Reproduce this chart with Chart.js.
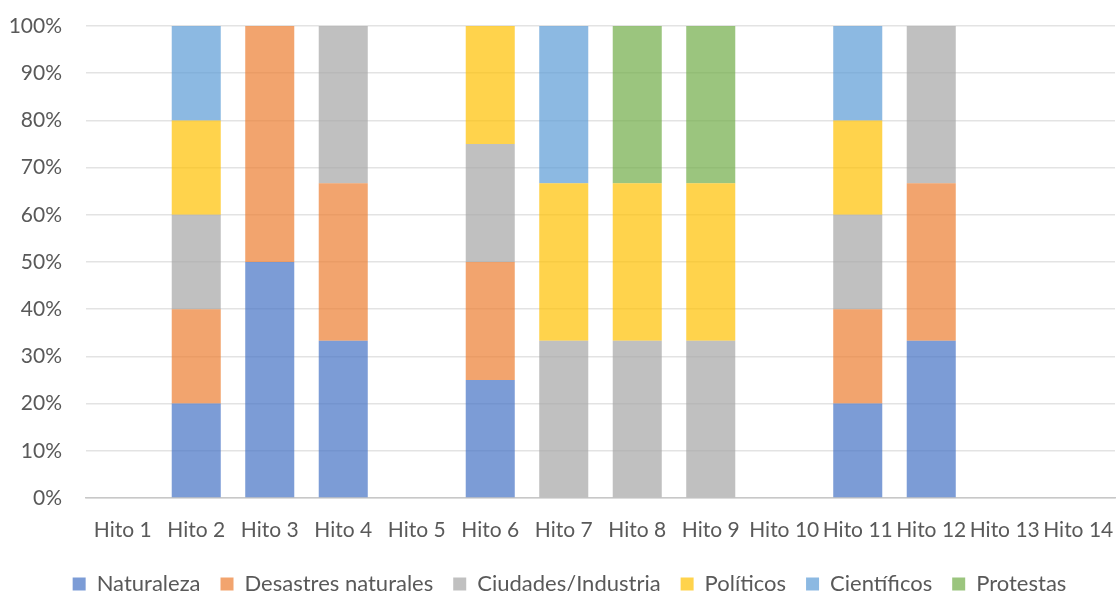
<!DOCTYPE html>
<html>
<head>
<meta charset="utf-8">
<script src="https://cdn.jsdelivr.net/npm/chart.js@4/dist/chart.umd.min.js"></script>
<style>
  html, body { margin: 0; padding: 0; background: #ffffff; }
  #wrap { width: 1116px; height: 591px; }
</style>
</head>
<body>
<div id="wrap"><canvas id="c" width="1116" height="591"></canvas></div>
<script>
// Share of each theme per milestone (percent of the milestone's total)
const categories = ['Hito 1','Hito 2','Hito 3','Hito 4','Hito 5','Hito 6','Hito 7','Hito 8','Hito 9','Hito 10','Hito 11','Hito 12','Hito 13','Hito 14'];
const naturaleza  = [null, 20, 50, 33.33, null, 25, null, null, null, null, 20, 33.33, null, null];
const desastres   = [null, 20, 50, 33.33, null, 25, null, null, null, null, 20, 33.33, null, null];
const ciudades    = [null, 20, null, 33.34, null, 25, 33.33, 33.33, 33.33, null, 20, 33.34, null, null];
const politicos   = [null, 20, null, null, null, 25, 33.33, 33.33, 33.33, null, 20, null, null, null];
const cientificos = [null, 20, null, null, null, null, 33.34, null, null, null, 20, null, null, null];
const protestas   = [null, null, null, null, null, null, null, 33.34, 33.34, null, null, null, null, null];
const yTicks = [0, 10, 20, 30, 40, 50, 60, 70, 80, 90, 100];

const FONT = 'Lato, Carlito, Calibri, "Open Sans", sans-serif';
const TEXT = '#595959';

function ds(label, data, color) {
  return { label, data, backgroundColor: color, borderWidth: 0,
           barPercentage: 0.667, categoryPercentage: 1.0 };
}

// Nudge the legend row slightly right of centre
const legendNudge = {
  id: 'legendNudge',
  afterLayout(chart) {
    if (chart.legend) { chart.legend.left += 12; chart.legend.right += 12; }
  }
};

new Chart(document.getElementById('c'), {
  type: 'bar',
  data: {
    labels: categories,
    datasets: [
      ds('Naturaleza', naturaleza, 'rgba(68,114,196,0.7)'),
      ds('Desastres naturales', desastres, 'rgba(237,125,49,0.7)'),
      ds('Ciudades/Industria', ciudades, 'rgba(165,165,165,0.7)'),
      ds('Políticos', politicos, 'rgba(255,192,0,0.7)'),
      ds('Científicos', cientificos, 'rgba(91,155,213,0.7)'),
      ds('Protestas', protestas, 'rgba(112,173,71,0.7)')
    ]
  },
  plugins: [legendNudge],
  options: {
    responsive: false,
    animation: false,
    layout: { padding: { top: 26, right: 1, left: 0, bottom: -14 } },
    plugins: {
      tooltip: { enabled: false },
      legend: {
        position: 'bottom',
        labels: {
          font: { family: FONT, size: 22 },
          color: TEXT,
          boxWidth: 13,
          boxHeight: 13,
          padding: 20
        }
      }
    },
    scales: {
      x: {
        stacked: true,
        grid: { display: false, drawTicks: false },
        border: { display: true, color: '#C8C8C8', width: 1.5 },
        ticks: {
          font: { family: FONT, size: 21 },
          color: TEXT,
          autoSkip: false,
          maxRotation: 0,
          padding: 20
        },
        afterFit: s => { s.height = 55; s.paddingLeft = 0; s.paddingRight = 0; }
      },
      y: {
        stacked: true,
        min: 0,
        max: 100,
        afterBuildTicks: s => { s.ticks = yTicks.map(v => ({ value: v })); },
        grid: { color: '#E3E3E3', lineWidth: 1.5, drawTicks: false },
        border: { display: false },
        ticks: {
          font: { family: FONT, size: 21 },
          color: TEXT,
          padding: 24,
          callback: v => v + '%'
        },
        afterFit: s => { s.width = 86; s.paddingTop = 0; s.paddingBottom = 0; }
      }
    }
  }
});
</script>
</body>
</html>
